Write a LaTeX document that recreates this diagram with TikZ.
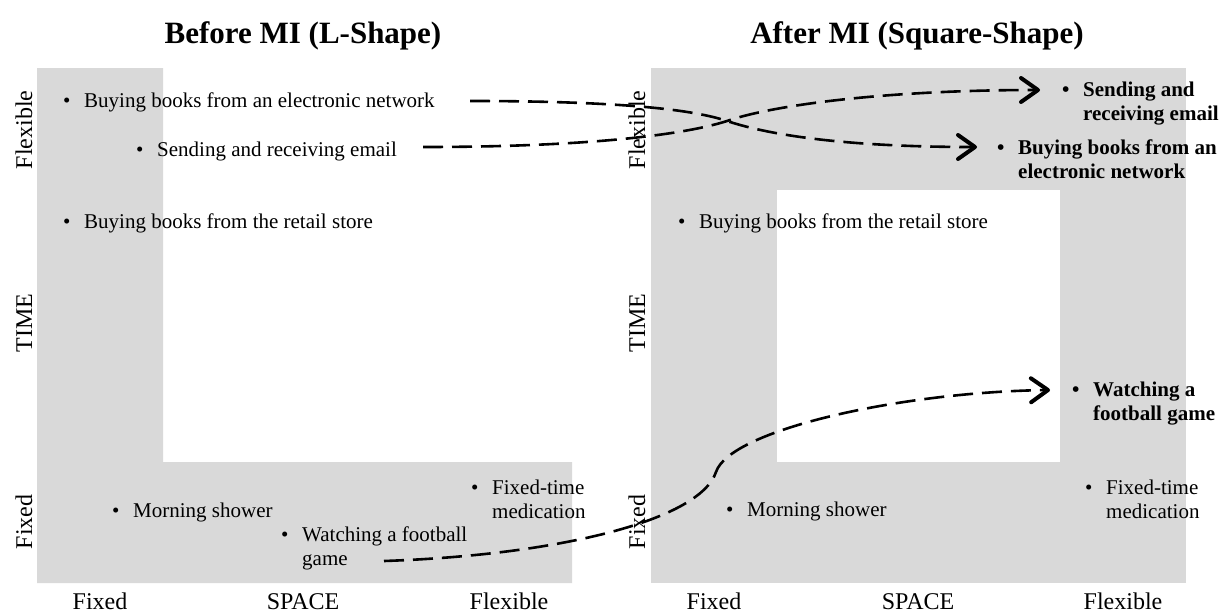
\documentclass[tikz,border=0pt]{standalone}
\usepackage{fontspec}
\setmainfont{Liberation Serif}
\usetikzlibrary{arrows.meta}
\definecolor{panelgray}{RGB}{217,217,217}
\newcommand{\bul}{\makebox[21pt][l]{•}}
\newcommand{\ind}{\hspace*{21pt}}
\tikzset{
  panel/.style={fill=panelgray, draw=none},
  item/.style={anchor=north west, inner sep=0pt, align=left, font=\fontsize{21}{24}\selectfont},
  bitem/.style={item, font=\fontsize{21}{24}\selectfont\bfseries},
  axlabel/.style={inner sep=0pt, anchor=base, font=\fontsize{24}{28}\selectfont},
  vaxlabel/.style={axlabel, rotate=90},
  ttl/.style={inner sep=0pt, anchor=base, font=\fontsize{31}{36}\selectfont\bfseries},
  flow/.style={line width=2.6pt, dash pattern=on 20pt off 9pt,
    -{Straight Barb[length=17pt, width=24pt, line width=4pt, round]}}
}
\begin{document}
\begin{tikzpicture}[x=1pt, y=-1pt]
\useasboundingbox (0,0) rectangle (1232,613);
% panels
\fill[panel] (37,68) -- (163,68) -- (163,462) -- (572,462) -- (572,583) -- (37,583) -- cycle;
\fill[panel] (651,68) rectangle (1186,583);
\fill[white] (777,190) rectangle (1060,462);
% titles
\node[ttl] (tL) at (303,43) {Before MI (L-Shape)};
\node[ttl] (tR) at (917,43) {After MI (Square-Shape)};
% axis labels left
\node[vaxlabel] (lflex) at (32,130) {Flexible};
\node[vaxlabel] (ltime) at (32,323) {TIME};
\node[vaxlabel] (lfix) at (32,522) {Fixed};
\node[axlabel] (lbfix) at (100,609) {Fixed};
\node[axlabel] (lspace) at (303,609) {SPACE};
\node[axlabel] (lbflex) at (509,609) {Flexible};
% axis labels right
\node[vaxlabel] (rflex) at (645,130) {Flexible};
\node[vaxlabel] (rtime) at (645,323) {TIME};
\node[vaxlabel] (rfix) at (645,522) {Fixed};
\node[axlabel] (rbfix) at (714,609) {Fixed};
\node[axlabel] (rspace) at (918,609) {SPACE};
\node[axlabel] (rbflex) at (1123,609) {Flexible};
% left items
\node[item] (L1) at (63,93) {\bul Buying books from an electronic network};
\node[item] (L2) at (136,142) {\bul Sending and receiving email};
\node[item] (L3) at (63,214) {\bul Buying books from the retail store};
\node[item] (L4) at (112,503) {\bul Morning shower};
\node[item] (L5) at (281,527) {\bul Watching a football\\\ind game};
\node[item] (L6) at (471,480) {\bul Fixed-time\\\ind medication};
% right items
\node[bitem] (R1) at (1062,82) {\bul Sending and\\\ind receiving email};
\node[bitem] (R2) at (997,140) {\bul Buying books from an\\\ind electronic network};
\node[item] (R3) at (678,214) {\bul Buying books from the retail store};
\node[bitem] (R4) at (1072,382) {\bul Watching a\\\ind football game};
\node[item] (R5) at (726,502) {\bul Morning shower};
\node[item] (R6) at (1085,480) {\bul Fixed-time\\\ind medication};
% connector ends
\coordinate (a0) at (470,101);
\coordinate (a1) at (977,147);
\coordinate (b0) at (423,147);
\coordinate (b1) at (1040,90);
\coordinate (c0) at (384,561);
\coordinate (c1) at (1050,390);
\coordinate (x) at (727,121);
\coordinate (cm) at (716,472);
% connectors
\draw[flow] (a0) .. controls (640,101) and (700,112) .. (x) .. controls (760,132) and (830,147) .. (a1);
\draw[flow] (b0) .. controls (600,147) and (690,133) .. (x) .. controls (770,106) and (880,90) .. (b1);
\draw[flow] (c0) .. controls (560,555) and (700,520) .. (cm) .. controls (730,430) and (900,392) .. (c1);
\end{tikzpicture}
\end{document}
